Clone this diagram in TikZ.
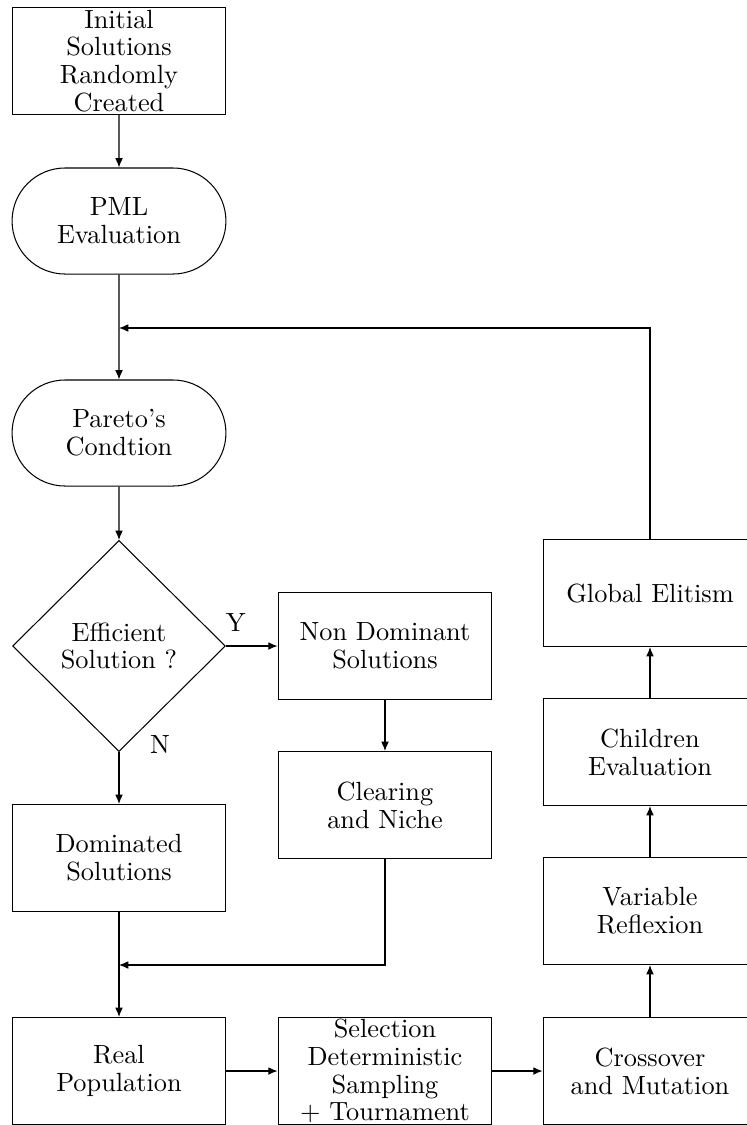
\documentclass[tikz,border=0pt]{standalone}
\usetikzlibrary{shapes.geometric,shapes.misc,arrows.meta}
\begin{document}
\begin{tikzpicture}[x=0.3876pt,y=-0.3876pt,
  every node/.style={font=\fontsize{10.2}{10.8}\selectfont, align=center, inner sep=0pt},
  box/.style={draw, line width=0.4pt, rectangle, minimum width=82.9pt, minimum height=41.5pt},
  term/.style={draw, line width=0.4pt, rounded rectangle, minimum width=82.9pt, minimum height=41.1pt},
  dec/.style={draw, line width=0.4pt, diamond, minimum width=82.5pt, minimum height=81.8pt},
  arr/.style={-{Latex[length=3.6pt,width=3pt]}, line width=0.4pt}]
\useasboundingbox (0,0) rectangle (747,1125);
\clip (0,0) rectangle (747,1125);

\node[box]  (init)  at (119,61)   {Initial\\Solutions\\Randomly\\Created};
\node[term] (pml)   at (119,221)  {PML\\Evaluation};
\node[term] (par)   at (119,433)  {Pareto's\\Condtion};
\node[dec]  (eff)   at (119,646)  {Efficient\\Solution ?};
\node[box]  (nd)    at (385,646)  {Non Dominant\\Solutions};
\node[box]  (cl)    at (385,805)  {Clearing\\and Niche};
\node[box]  (dom)   at (119,858)  {Dominated\\Solutions};
\node[box]  (real)  at (119,1071) {Real\\Population};
\node[box]  (sel)   at (385,1071) {Selection\\Deterministic\\Sampling\\+ Tournament};
\node[box]  (cross) at (650,1071) {Crossover\\and Mutation};
\node[box]  (var)   at (650,911)  {Variable\\Reflexion};
\node[box]  (child) at (650,752)  {Children\\Evaluation};
\node[box]  (glob)  at (650,593)  {Global Elitism};

\node (nlab) at (160,744) {N};

\coordinate (j1) at (119,328);
\coordinate (c1) at (650,328);
\coordinate (j2) at (119,965);
\coordinate (c2) at (385,965);

\draw[arr] (init) -- (pml);
\draw[arr] (pml) -- (par);
\draw[arr] (glob.north) -- (c1) -- (j1);
\draw[arr] (par) -- (eff);
\draw[arr] (eff.east) -- node[pos=0.19, above=5.4pt] (ylab) {Y} (nd.west);
\draw[arr] (eff.south) -- (dom.north);
\draw[arr] (nd) -- (cl);
\draw[arr] (cl.south) -- (c2) -- (j2);
\draw[arr] (dom) -- (real);
\draw[arr] (real) -- (sel);
\draw[arr] (sel) -- (cross);
\draw[arr] (cross) -- (var);
\draw[arr] (var) -- (child);
\draw[arr] (child) -- (glob);
\end{tikzpicture}
\end{document}
